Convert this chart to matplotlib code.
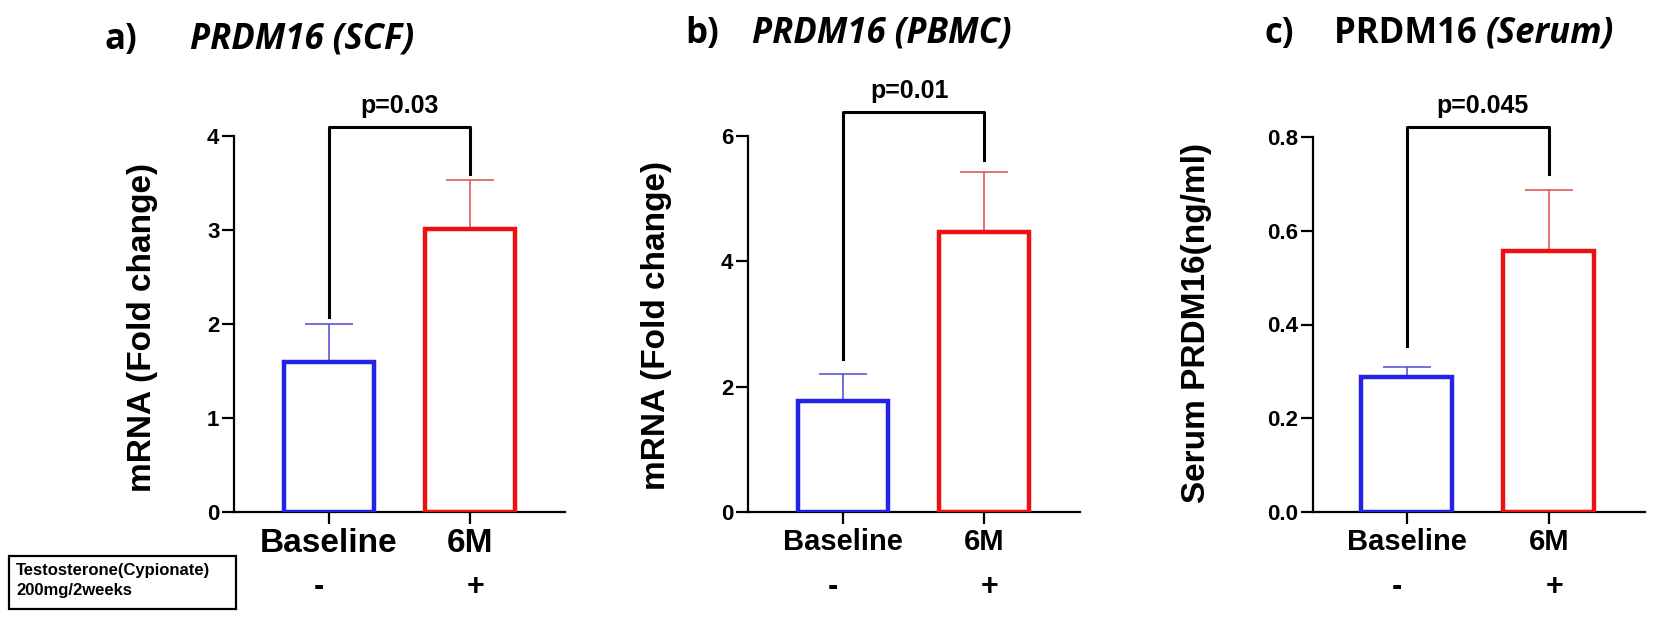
import matplotlib
matplotlib.use("Agg")
import matplotlib.pyplot as plt
from matplotlib.patches import Rectangle

# ------------------------------------------------------------
# data
# ------------------------------------------------------------
groups = ["Baseline", "6M"]
treatment = ["-", "+"]

scf_mean = [1.60, 3.01]
scf_sem = [0.40, 0.52]

pbmc_mean = [1.77, 4.47]
pbmc_sem = [0.43, 0.96]

serum_mean = [0.289, 0.556]
serum_sem = [0.021, 0.131]

p_labels = ["p=0.03", "p=0.01", "p=0.045"]

# ------------------------------------------------------------
# style
# ------------------------------------------------------------
W, H = 1654, 618
plt.rcParams["font.family"] = ["Liberation Sans", "DejaVu Sans"]
plt.rcParams["font.weight"] = "bold"

blue = "#2323e8"
red = "#ee1111"
blue_err = "#4a4ad8"
red_err = "#e04a4a"


def px(x, y):
    return x / W, 1 - y / H


fig = plt.figure(figsize=(W / 100, H / 100), dpi=100)

# panel geometry in pixels: axis left, axis right, y of top tick, y of zero
panels = [
    dict(left=234, right=565, top=136, zero=512, xlim=(-0.674, 1.674),
         mean=scf_mean, sem=scf_sem, ymax=4, yticks=[0, 1, 2, 3, 4], fmt="{:.0f}",
         ylabel="mRNA (Fold change)", ylab_xy=(143, 327),
         bracket=(2.07, 4.096, 3.60), p_xy=(0.50, 4.245), xfs=24),
    dict(left=748, right=1080, top=136, zero=512, xlim=(-0.674, 1.68),
         mean=pbmc_mean, sem=pbmc_sem, ymax=6, yticks=[0, 2, 4, 6], fmt="{:.0f}",
         ylabel="mRNA (Fold change)", ylab_xy=(656, 326),
         bracket=(2.44, 6.39, 5.62), p_xy=(0.475, 6.6), xfs=21),
    dict(left=1313, right=1645, top=137, zero=512, xlim=(-0.66, 1.676),
         mean=serum_mean, sem=serum_sem, ymax=0.8, yticks=[0, 0.2, 0.4, 0.6, 0.8], fmt="{:.1f}",
         ylabel="Serum PRDM16(ng/ml)", ylab_xy=(1196, 323),
         bracket=(0.354, 0.821, 0.721), p_xy=(0.53, 0.852), xfs=21),
]

for i, cfg in enumerate(panels):
    l, b = px(cfg["left"], cfg["zero"])
    w = (cfg["right"] - cfg["left"]) / W
    h = (cfg["zero"] - cfg["top"]) / H
    ax = fig.add_axes([l, b, w, h])

    x = [0, 1]
    ax.bar(x, cfg["mean"], width=0.64, facecolor="white",
           edgecolor=[blue, red], linewidth=3.2, zorder=3)
    for xi, m, s, c in zip(x, cfg["mean"], cfg["sem"], [blue_err, red_err]):
        ax.errorbar(xi, m, yerr=[[0], [s]], fmt="none", ecolor=c,
                    elinewidth=1.1, capsize=17, capthick=1.1, zorder=2)

    ax.set_xlim(*cfg["xlim"])
    ax.set_ylim(0, cfg["ymax"])
    ax.set_yticks(cfg["yticks"])
    ax.set_yticklabels([cfg["fmt"].format(t) for t in cfg["yticks"]],
                       fontsize=16, fontweight="bold")
    ax.set_xticks(x)
    ax.set_xticklabels(groups, fontsize=cfg["xfs"], fontweight="bold")

    for side in ["top", "right"]:
        ax.spines[side].set_visible(False)
    for side in ["left", "bottom"]:
        ax.spines[side].set_linewidth(1.6)
    ax.tick_params(axis="both", length=8.5, width=1.6, color="black")
    ax.tick_params(axis="y", pad=2)
    ax.tick_params(axis="x", pad=3)

    # significance bracket
    y0, ytop, y1 = cfg["bracket"]
    ax.plot([0, 0, 1, 1], [y0, ytop, ytop, y1], color="black",
            linewidth=2.2, clip_on=False, zorder=4)
    ax.text(cfg["p_xy"][0], cfg["p_xy"][1], p_labels[i], ha="center",
            va="baseline", fontsize=18, fontweight="bold")

    # treatment row
    offs = [(-0.07, -0.2), (1.04, -0.2)]
    for (dx, dy), sym in zip(offs, treatment):
        ax.text(dx, dy, sym, transform=ax.get_xaxis_transform(), ha="center",
                va="center", fontsize=22, fontweight="bold")

    fx, fy = px(*cfg["ylab_xy"])
    fig.text(fx, fy, cfg["ylabel"], rotation=90, ha="center", va="center",
             fontsize=24, fontweight="bold")

# panel titles
title_font = ["Open Sans", "DejaVu Sans"]
tfs = 25
fig.text(*px(104, 49), "a)", fontsize=tfs, fontweight="bold", family=title_font)
fig.text(*px(190, 49), "PRDM16 (SCF)", fontsize=tfs, fontweight="bold",
         style="italic", family=title_font)
fig.text(*px(685, 43), "b)", fontsize=tfs, fontweight="bold", family=title_font)
fig.text(*px(752, 43), "PRDM16 (PBMC)", fontsize=tfs, fontweight="bold",
         style="italic", family=title_font)
fig.text(*px(1264, 43), "c)", fontsize=tfs, fontweight="bold", family=title_font)
t = fig.text(*px(1334, 43), "PRDM16 ", fontsize=tfs, fontweight="bold",
             family=title_font)
fig.canvas.draw()
bb = t.get_window_extent()
fig.text(bb.x1 / W, 1 - 43 / H, "(Serum)", fontsize=tfs, fontweight="bold",
         style="italic", family=title_font)

# treatment box
bx0, by0 = px(9, 609)
fig.patches.append(Rectangle((bx0, by0), (236 - 9) / W, (609 - 556) / H,
                             transform=fig.transFigure, fill=False,
                             edgecolor="black", linewidth=1.6))
fig.text(*px(16, 570), "Testosterone(Cypionate)", fontsize=12,
         fontweight="bold", va="center")
fig.text(*px(16, 590), "200mg/2weeks", fontsize=12, fontweight="bold",
         va="center")

fig.savefig("out.png", dpi=100)
